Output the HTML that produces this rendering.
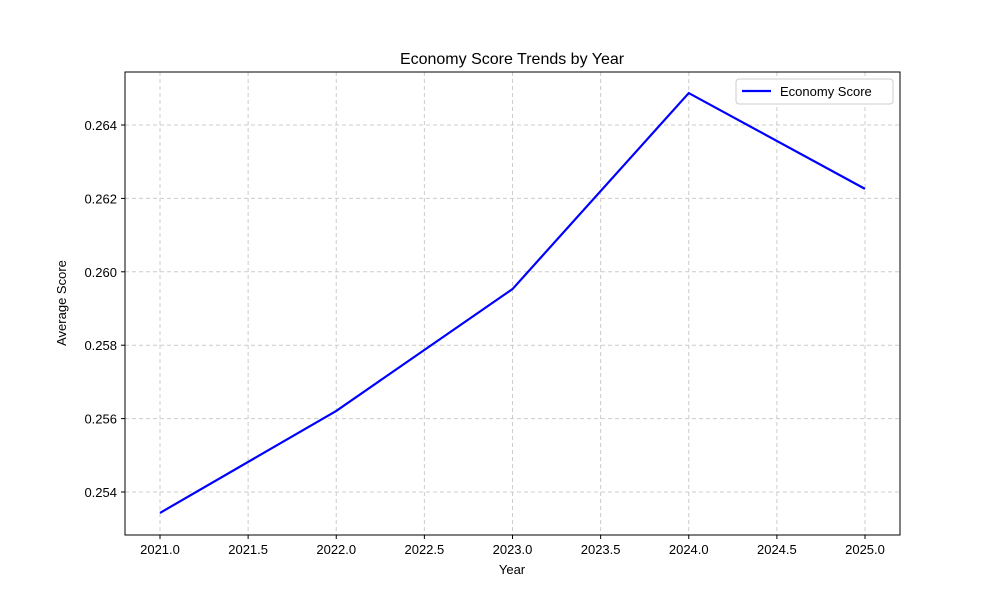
<!DOCTYPE html>
<html><head><meta charset="utf-8"><style>
body{margin:0;background:#fff;}
svg{display:block;font-family:"Liberation Sans","DejaVu Sans",sans-serif;}
</style></head><body>
<svg id="chart" width="1000" height="600">
<rect width="1000" height="600" fill="#fff"/>
<text x="512" y="64" text-anchor="middle" font-size="16">Economy Score Trends by Year</text>
<g id="grid"></g>
<g id="xticks"></g>
<g id="yticks"></g>
<polyline id="line" fill="none" stroke="#0000ff" stroke-width="2.2"/>
<rect x="125" y="72" width="775" height="463" fill="none" stroke="#000" stroke-width="1"/>
<text x="512" y="574" text-anchor="middle" font-size="13">Year</text>
<text transform="translate(66,303) rotate(-90)" text-anchor="middle" font-size="13">Average Score</text>
<g>
<rect x="736" y="79" width="157" height="25" rx="3" fill="#fff" stroke="#ccc"/>
<line x1="742" y1="91" x2="771" y2="91" stroke="#0000ff" stroke-width="2.2"/>
<text x="780" y="96" font-size="13">Economy Score</text>
</g>
</svg>
<script>
const years=[2021,2022,2023,2024,2025];
const scores=[0.25343,0.25621,0.25953,0.26487,0.26226];
const xTicks=[2021.0,2021.5,2022.0,2022.5,2023.0,2023.5,2024.0,2024.5,2025.0];
const yTicks=[0.254,0.256,0.258,0.260,0.262,0.264];
const ns="http://www.w3.org/2000/svg";
function xs(v){return 160+(v-2021)*176.25;}
function ys(v){return 492-(v-0.254)*36700;}
function mk(t,a,p){const e=document.createElementNS(ns,t);for(const k in a)e.setAttribute(k,a[k]);p.appendChild(e);return e;}
const g=document.getElementById('grid'),gx=document.getElementById('xticks'),gy=document.getElementById('yticks');
xTicks.forEach(v=>{const x=xs(v);
const l=mk('line',{x1:x,x2:x,y1:72,y2:535,stroke:'#ccc','stroke-dasharray':'4,3'},g);


mk('line',{x1:x,x2:x,y1:535,y2:539,stroke:'#000'},gx);
const t=mk('text',{x:x,y:554,'text-anchor':'middle','font-size':'13'},gx);t.textContent=v.toFixed(1);

});
yTicks.forEach(v=>{const y=ys(v);
const l=mk('line',{x1:125,x2:900,y1:y,y2:y,stroke:'#ccc','stroke-dasharray':'4,3'},g);


mk('line',{x1:121,x2:125,y1:y,y2:y,stroke:'#000'},gy);
const t=mk('text',{x:117,y:y+5,'text-anchor':'end','font-size':'13'},gy);t.textContent=v.toFixed(3);

});
document.getElementById('line').setAttribute('points',years.map((y,i)=>xs(y)+','+ys(scores[i])).join(' '));
</script>
</body></html>
